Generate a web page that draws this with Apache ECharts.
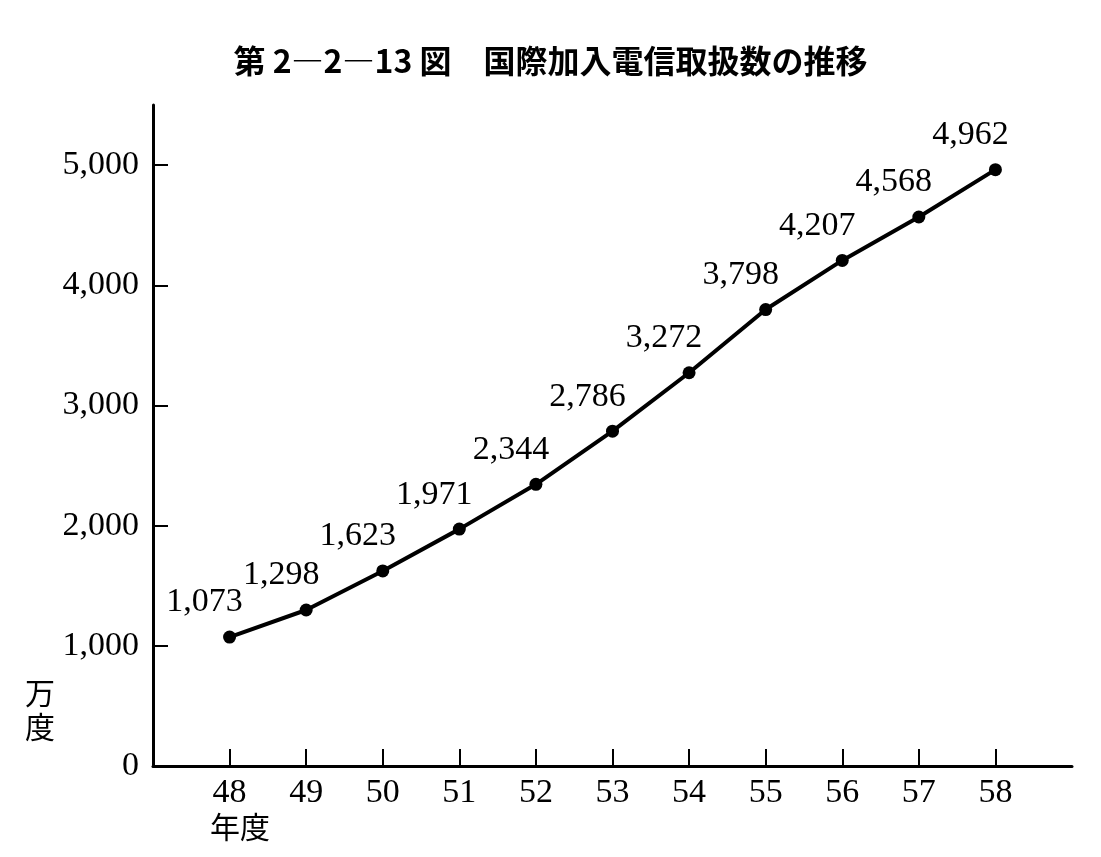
<!DOCTYPE html>
<html>
<head>
<meta charset="utf-8">
<script src="https://cdn.jsdelivr.net/npm/echarts@6/dist/echarts.min.js"></script>
<style>
  html, body { margin: 0; padding: 0; background: #fff; }
  #showChart { width: 1101px; height: 857px; }
</style>
</head>
<body>
<div id="showChart"></div>
<script>
var years = [48, 49, 50, 51, 52, 53, 54, 55, 56, 57, 58];
var values = [1073, 1298, 1623, 1971, 2344, 2786, 3272, 3798, 4207, 4568, 4962];
var yTicks = [0, 1000, 2000, 3000, 4000, 5000];

var serif = '"Liberation Serif", "DejaVu Serif", serif';
var cjk = '"Noto Sans CJK JP", sans-serif';

var points = [];
for (var i = 0; i < years.length; i++) {
    points.push([years[i], values[i]]);
}

var option1 = {
    backgroundColor: '#fff',
    animation: false,
    title: {
        text: '第 2―2―13 図　国際加入電信取扱数の推移',
        left: 'center',
        top: 40,
        textStyle: { fontFamily: cjk, fontSize: 32, fontWeight: 'bold', color: '#000' }
    },
    grid: { left: 153, right: 29, top: 105, bottom: 91 },
    xAxis: {
        type: 'value',
        min: 47,
        max: 59,
        interval: 1,
        axisLine: { lineStyle: { color: '#000', width: 3 } },
        axisTick: { inside: true, length: 17, customValues: years, lineStyle: { color: '#000', width: 2 } },
        splitLine: { show: false },
        axisLabel: {
            color: '#000', fontFamily: serif, fontSize: 34, margin: 10,
            customValues: years
        }
    },
    yAxis: {
        type: 'value',
        min: 0,
        max: 5500,
        interval: 1000,
        axisLine: { show: true, lineStyle: { color: '#000', width: 3 } },
        axisTick: { show: true, inside: true, length: 15, customValues: yTicks.slice(1), lineStyle: { color: '#000', width: 2 } },
        splitLine: { show: false },
        axisLabel: {
            color: '#000', fontFamily: serif, fontSize: 34, margin: 14,
            customValues: yTicks,
            formatter: function (v) { return v.toLocaleString('en-US'); }
        }
    },
    graphic: [
        { type: 'text', left: 25, top: 676, style: { text: '万\n度', font: '30px ' + cjk, fill: '#000', lineHeight: 34 } },
        { type: 'text', left: 210, top: 812, style: { text: '年度', font: '30px ' + cjk, fill: '#000' } }
    ],
    series: [{
        type: 'line',
        data: points,
        symbol: 'circle',
        symbolSize: 13,
        lineStyle: { color: '#000', width: 4 },
        itemStyle: { color: '#000' },
        label: {
            show: true,
            position: 'top',
            offset: [-25, -6],
            color: '#000',
            fontFamily: serif,
            fontSize: 34,
            formatter: function (p) { return p.value[1].toLocaleString('en-US'); }
        }
    }]
};

var chartOutChar = echarts.init(document.getElementById('showChart'));
chartOutChar.setOption(option1);
</script>
</body>
</html>
